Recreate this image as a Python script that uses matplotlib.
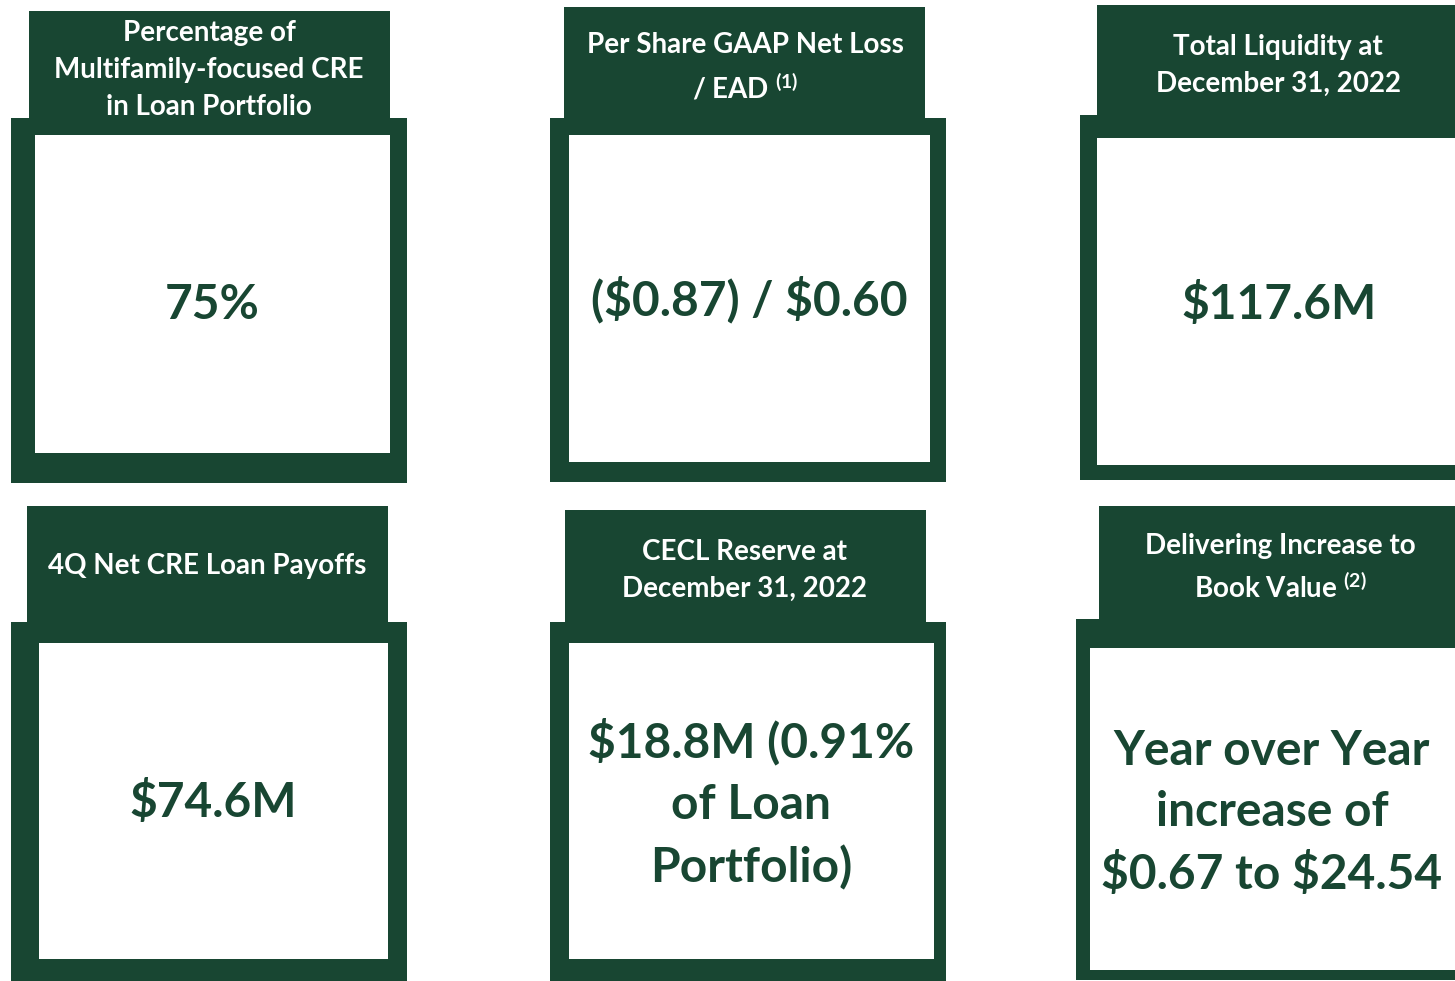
import matplotlib.pyplot as plt
from matplotlib.patches import Rectangle

# Content of the six tiles
headers = [
    "Percentage of\nMultifamily-focused CRE\nin Loan Portfolio",
    "Per Share GAAP Net Loss\n/ EAD $^{(1)}$",
    "Total Liquidity at\nDecember 31, 2022",
    "4Q Net CRE Loan Payoffs",
    "CECL Reserve at\nDecember 31, 2022",
    "Delivering Increase to\nBook Value $^{(2)}$",
]
values = [
    "75%",
    "($0.87) / $0.60",
    "$117.6M",
    "$74.6M",
    "$18.8M (0.91%\nof Loan\nPortfolio)",
    "Year over Year\nincrease of\n$0.67 to $24.54",
]

green = '#184632'
plt.rcParams['font.family'] = ['Lato', 'DejaVu Sans']
plt.rcParams['mathtext.fontset'] = 'custom'
plt.rcParams['mathtext.default'] = 'regular'

W, H = 1455, 981
fig = plt.figure(figsize=(W / 100, H / 100), dpi=100)
ax = fig.add_axes([0, 0, 1, 1])
ax.set_xlim(0, W)
ax.set_ylim(H, 0)
ax.axis('off')

# layout in pixels: header box, outer frame, white inner box
# (hx0, hx1, hy0), (fx0, fx1, fy0, fy1), (ix0, ix1, iy0, iy1)
layout = [
    ((29, 390, 11), (11, 407, 118, 483), (35, 390, 135, 453)),
    ((564, 925, 7), (550, 946, 118, 482), (569, 930, 135, 462)),
    ((1097, 1460, 5), (1080, 1460, 115, 480), (1097, 1460, 138, 465)),
    ((27, 388, 506), (11, 407, 622, 981), (39, 388, 643, 959)),
    ((565, 926, 510), (550, 946, 622, 981), (569, 934, 643, 959)),
    ((1099, 1460, 506), (1076, 1460, 619, 980), (1090, 1460, 648, 970)),
]
header_pos = [(209, 70), (745, 68), (1278, 65), (207, 566), (745, 570), (1280, 568)]
value_pos = [(212, 305), (749, 300), (1279, 304), (213, 803), (751, 804), (1272, 813)]

for i, ((hx0, hx1, hy0), (fx0, fx1, fy0, fy1), (ix0, ix1, iy0, iy1)) in enumerate(layout):
    ax.add_patch(Rectangle((hx0, hy0), hx1 - hx0, fy0 - hy0 + 2, color=green, lw=0))
    ax.add_patch(Rectangle((fx0, fy0), fx1 - fx0, fy1 - fy0, color=green, lw=0))
    ax.add_patch(Rectangle((ix0, iy0), ix1 - ix0, iy1 - iy0, color='white', lw=0))
    hx, hy = header_pos[i]
    ax.text(hx, hy, headers[i], color='white', fontsize=20, fontweight='bold',
            ha='center', va='center', linespacing=1.52)
    vx, vy = value_pos[i]
    ax.text(vx, vy, values[i], color=green, fontsize=34.5, fontweight='bold',
            ha='center', va='center', linespacing=1.48, parse_math=False)

fig.savefig('out.png', dpi=100, facecolor='white')
